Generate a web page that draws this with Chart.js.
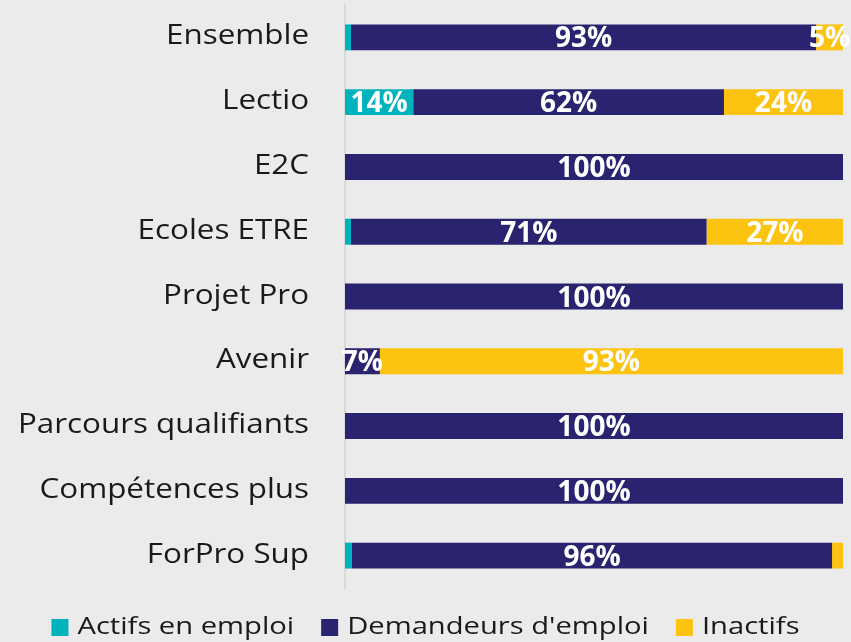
<!DOCTYPE html>
<html lang="fr">
<head>
    <meta charset="UTF-8">
    <title>Situation des stagiaires</title>
    <script src="https://cdn.jsdelivr.net/npm/chart.js"></script>
    <style>
        html, body {
            margin: 0;
            padding: 0;
            background: #ebebeb;
        }
        canvas { display: block; }
    </style>
</head>
<body>
    <canvas id="statutChart" width="851" height="642"></canvas>

    <script>
        const categories = ['Ensemble', 'Lectio', 'E2C', 'Ecoles ETRE', 'Projet Pro', 'Avenir',
            'Parcours qualifiants', 'Compétences plus', 'ForPro Sup'];
        const actifs      = [1.2, 13.7, 0, 1.2, 0, 0, 0, 0, 1.4];
        const demandeurs  = [93.4, 62.4, 100, 71.4, 100, 7.0, 100, 100, 96.4];
        const inactifs    = [5.4, 23.9, 0, 27.4, 0, 93.0, 0, 0, 2.2];

        const FONT = '"Open Sans", sans-serif';

        // category names, segment percentages and the legend, drawn on the canvas
        // (the original text is a little wider than Open Sans, hence the scaleX)
        const textLayer = {
            id: 'textLayer',
            afterDraw(chart) {
                const ctx = chart.ctx;
                const yScale = chart.scales.y;
                ctx.save();

                // category labels
                ctx.fillStyle = '#1a1a1a';
                ctx.font = '28px ' + FONT;
                ctx.textAlign = 'right';
                ctx.textBaseline = 'alphabetic';
                const sx = 1.12;
                categories.forEach((c, i) => {
                    const y = yScale.getPixelForValue(i);
                    ctx.save();
                    ctx.translate(chart.chartArea.left - 36, y + 7);
                    ctx.scale(sx, 1);
                    ctx.fillText(c, 0, 0);
                    ctx.restore();
                });

                // percentages inside the bars
                ctx.font = 'bold 28px ' + FONT;
                ctx.fillStyle = '#ffffff';
                ctx.textAlign = 'center';
                chart.data.datasets.forEach((ds, i) => {
                    chart.getDatasetMeta(i).data.forEach((bar, j) => {
                        const v = ds.data[j];
                        if (v < 5) return;
                        const { x, base, y } = bar.getProps(['x', 'base', 'y'], true);
                        ctx.fillText(Math.round(v) + '%', (x + base) / 2, y + 10);
                    });
                });

                // legend
                const lx = 1.19, box = 17, gapIn = 9, gapOut = 27, base = 634;
                ctx.font = '24.5px ' + FONT;
                ctx.textAlign = 'left';
                const items = chart.data.datasets.map(ds => ({
                    text: ds.label, color: ds.backgroundColor,
                    w: ctx.measureText(ds.label).width * lx
                }));
                let total = 0;
                items.forEach((it, k) => { total += box + gapIn + it.w + (k ? gapOut : 0); });
                let x = (chart.width - total) / 2;
                items.forEach(it => {
                    ctx.fillStyle = it.color;
                    ctx.fillRect(x, base - 15, box, box);
                    x += box + gapIn;
                    ctx.fillStyle = '#1a1a1a';
                    ctx.save();
                    ctx.translate(x, base);
                    ctx.scale(lx, 1);
                    ctx.fillText(it.text, 0, 0);
                    ctx.restore();
                    x += it.w + gapOut;
                });
                ctx.restore();
            }
        };

        const ctx = document.getElementById('statutChart').getContext('2d');
        new Chart(ctx, {
            type: 'bar',
            data: {
                labels: categories,
                datasets: [
                    { label: 'Actifs en emploi', data: actifs, backgroundColor: '#00b2bb' },
                    { label: "Demandeurs d'emploi", data: demandeurs, backgroundColor: '#2a2370' },
                    { label: 'Inactifs', data: inactifs, backgroundColor: '#fdc311' }
                ]
            },
            options: {
                indexAxis: 'y',
                responsive: false,
                animation: false,
                datasets: {
                    bar: { barPercentage: 0.4, categoryPercentage: 1 }
                },
                layout: { padding: { top: 5, right: 8, left: 337, bottom: 54 } },
                plugins: {
                    legend: { display: false },
                    tooltip: { enabled: false }
                },
                scales: {
                    x: {
                        stacked: true,
                        min: 0,
                        max: 100,
                        display: false
                    },
                    y: {
                        stacked: true,
                        grid: { display: false },
                        border: { display: true, color: '#d9d9d9', width: 2 },
                        ticks: { display: false }
                    }
                }
            },
            plugins: [textLayer]
        });
    </script>
</body>
</html>
